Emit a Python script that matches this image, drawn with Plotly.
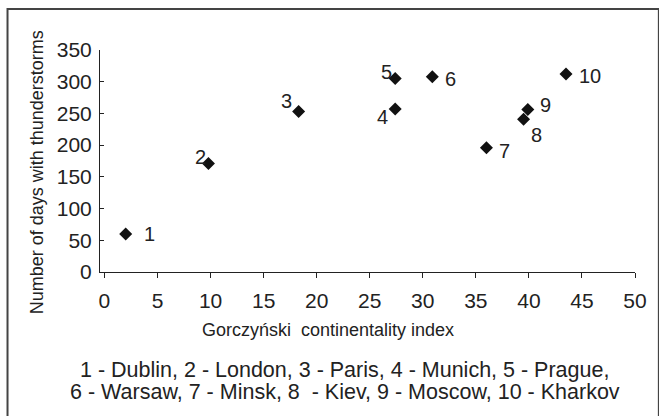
import plotly.graph_objects as go

# Data
city_ids = ["1", "2", "3", "4", "5", "6", "7", "8", "9", "10"]
continentality = [2.0, 9.8, 18.3, 27.4, 27.4, 30.9, 36.0, 39.5, 39.9, 43.5]
thunder_days = [60, 171, 253, 257, 305, 308, 196, 241, 256, 312]
x_ticks = [0, 5, 10, 15, 20, 25, 30, 35, 40, 45, 50]
y_ticks = [0, 50, 100, 150, 200, 250, 300, 350]
x_title = "Gorczyński  continentality index"
y_title = "Number of days with thunderstorms"
caption_lines = [
    "1 - Dublin, 2 - London, 3 - Paris, 4 - Munich, 5 - Prague,",
    "6 - Warsaw, 7 - Minsk, 8  - Kiev, 9 - Moscow, 10 - Kharkov",
]

# label offsets in pixels (style)
label_dx = [24, -8, -12, -13, -9, 18, 18, 13, 18, 24]
label_dy = [0, -7, -11, 8.5, -7, 2, 3, 16, -4.5, 2]

FONT = "Liberation Sans, Arial, sans-serif"
TXT = "#222222"

fig = go.Figure()
fig.add_trace(go.Scatter(
    x=continentality, y=thunder_days, mode="markers",
    marker=dict(symbol="diamond", size=10, color="#111111", line=dict(width=0)),
    showlegend=False, hoverinfo="x+y",
))

annotations = []
for cid, xv, yv, dx, dy in zip(city_ids, continentality, thunder_days, label_dx, label_dy):
    annotations.append(dict(
        x=xv, y=yv, xref="x", yref="y", text=cid, showarrow=False,
        xshift=dx, yshift=-dy, xanchor="center", yanchor="middle",
        font=dict(family=FONT, size=20, color=TXT),
    ))

# axis titles
annotations.append(dict(
    x=(37 - 100) / 538, y=(272 - 172) / 222, xref="paper", yref="paper", text=y_title, textangle=-90,
    showarrow=False, xanchor="center", yanchor="middle",
    font=dict(family=FONT, size=18, color=TXT),
))
annotations.append(dict(
    x=(329 - 100) / 538, y=(272 - 330) / 222, xref="paper", yref="paper", text=x_title,
    showarrow=False, xanchor="center", yanchor="middle",
    font=dict(family=FONT, size=18, color=TXT),
))
for i, line in enumerate(caption_lines):
    annotations.append(dict(
        x=(346 - 100) / 538, y=(272 - (370 + 22 * i)) / 222, xref="paper", yref="paper",
        text=line, showarrow=False, xanchor="center", yanchor="middle",
        font=dict(family=FONT, size=21.5, color=TXT),
    ))

fig.update_layout(
    width=659, height=416,
    margin=dict(l=100, r=21, t=50, b=144),
    paper_bgcolor="white", plot_bgcolor="white",
    annotations=annotations,
    shapes=[dict(
        type="rect", xref="paper", yref="paper",
        x0=(7 - 100) / 538, x1=(662 - 100) / 538,
        y0=(272 - 420) / 222, y1=(272 - 9) / 222,
        line=dict(color="#444444", width=2), fillcolor="rgba(0,0,0,0)",
        layer="above",
    )],
)
fig.update_xaxes(
    range=[-0.42, 50], tickvals=x_ticks, ticktext=[str(v) for v in x_ticks],
    showgrid=False, zeroline=False, showline=True, linecolor="#222222", linewidth=1,
    ticks="outside", ticklen=5, tickcolor="#222222",
    tickfont=dict(family=FONT, size=21, color=TXT), ticklabelstandoff=5,
)
fig.update_yaxes(
    range=[0, 350], tickvals=y_ticks, ticktext=[str(v) for v in y_ticks],
    showgrid=False, zeroline=False, showline=True, linecolor="#222222", linewidth=1,
    ticks="inside", ticklen=4, tickcolor="#222222",
    tickfont=dict(family=FONT, size=21, color=TXT), ticklabelstandoff=3,
)

fig.write_html(
    "out.html",
    config={"displayModeBar": False},
    post_script="document.body.style.margin='0';document.body.style.overflow='hidden';",
)
